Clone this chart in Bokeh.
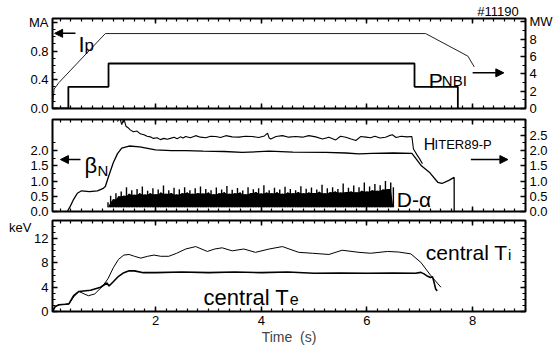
import numpy as np
from bokeh.plotting import figure
from bokeh.layouts import column
from bokeh.models import (Range1d, LinearAxis, FixedTicker, Label, Arrow,
                          NormalHead, PrintfTickFormatter)
from bokeh.embed import file_html
from bokeh.resources import INLINE

FONT = "Liberation Sans"

# ---------------- data (shot #11190) ----------------
shot_label = "#11190"

# plasma current, MA
ip_t = [0.05, 0.08, 0.17, 1.05, 7.11, 7.91, 8.03]
ip_ma = [0.04, 0.27, 0.36, 1.045, 1.045, 0.73, 0.58]

# neutral beam power, MW (step changes)
pnbi_t = [0.05, 0.35, 1.11, 6.90, 7.72]
pnbi_mw = [0.0, 2.5, 5.2, 2.5, 0.0]

# normalised beta
betan_t = [0.33, 0.38, 0.45, 0.52, 0.60, 0.75, 0.90, 1.00, 1.05, 1.12, 1.20, 1.28,
           1.36, 1.50, 1.70, 1.85, 2.00, 2.30, 2.57, 2.90, 3.30, 3.64, 4.15, 4.60,
           5.22, 5.60, 5.85, 6.10, 6.50, 6.85, 6.92, 7.03, 7.18, 7.34, 7.42, 7.55,
           7.65, 7.651]
betan = [0.0, 0.15, 0.40, 0.60, 0.68, 0.65, 0.68, 0.75, 0.82, 1.20, 1.60, 1.90,
         2.08, 2.15, 2.12, 2.07, 2.02, 2.00, 2.00, 1.98, 1.97, 1.94, 1.98, 1.95,
         1.94, 1.92, 1.89, 1.91, 1.92, 1.91, 1.75, 1.50, 1.29, 0.96, 0.92, 1.02,
         1.12, 0.0]

# confinement enhancement factor H_ITER89-P
h89_t = [1.28, 1.32, 1.36, 1.40, 1.44, 1.48, 1.52, 1.58, 1.65, 1.71, 1.78, 1.84,
         1.90, 1.96, 2.03, 2.09, 2.16, 2.22, 2.28, 2.35, 2.41, 2.47, 2.52, 2.57,
         2.66, 2.76, 2.85, 2.95, 3.04, 3.14, 3.23, 3.33, 3.45, 3.58, 3.70, 3.83,
         3.95, 4.06, 4.12, 4.15, 4.18, 4.28, 4.40, 4.52, 4.65, 4.78, 4.90, 5.03,
         5.16, 5.28, 5.41, 5.50, 5.60, 5.70, 5.79, 5.88, 5.98, 6.07, 6.15, 6.25,
         6.35, 6.42, 6.48, 6.55, 6.65, 6.75, 6.85, 6.88, 6.95, 7.00, 7.05]
h89 = [2.95, 3.10, 2.85, 3.05, 2.80, 2.75, 2.68, 2.62, 2.64, 2.55, 2.52, 2.47,
       2.45, 2.40, 2.42, 2.36, 2.40, 2.37, 2.40, 2.44, 2.39, 2.45, 2.41, 2.46,
       2.42, 2.49, 2.44, 2.42, 2.47, 2.46, 2.43, 2.49, 2.45, 2.44, 2.47, 2.46,
       2.43, 2.48, 2.57, 2.41, 2.38, 2.46, 2.49, 2.44, 2.46, 2.44, 2.49, 2.45,
       2.38, 2.44, 2.35, 2.47, 2.44, 2.38, 2.33, 2.46, 2.44, 2.42, 2.47, 2.41,
       2.44, 2.49, 2.52, 2.43, 2.47, 2.45, 2.46, 2.05, 1.85, 1.72, 1.57]

# D-alpha emission (arb.), spike heights sampled every 50 ms from 1.05 s
dalpha_t0, dalpha_dt = 1.05, 0.05
dalpha_hi = [0.05, 0.30, 0.52, 0.40, 0.60, 0.50, 0.66, 0.52, 0.80, 0.58,
             0.70, 0.55, 0.74, 0.60, 0.82, 0.56, 0.68, 0.60, 0.76, 0.57,
             0.72, 0.62, 0.85, 0.58, 0.70, 0.61, 0.78, 0.56, 0.73, 0.60,
             0.80, 0.62, 0.70, 0.58, 0.76, 0.61, 0.82, 0.59, 0.74, 0.62,
             0.70, 0.57, 0.79, 0.60, 0.72, 0.63, 0.84, 0.58, 0.71, 0.60,
             0.77, 0.62, 0.69, 0.57, 0.80, 0.61, 0.73, 0.64, 0.76, 0.59,
             0.86, 0.62, 0.70, 0.60, 0.78, 0.63, 0.72, 0.58, 0.81, 0.62,
             0.74, 0.60, 0.70, 0.64, 0.83, 0.60, 0.75, 0.62, 0.79, 0.61,
             0.72, 0.65, 0.88, 0.60, 0.76, 0.63, 0.80, 0.66, 0.74, 0.62,
             0.92, 0.64, 0.78, 0.66, 0.85, 0.63, 0.80, 0.68, 0.95, 0.66,
             0.82, 0.70, 0.90, 0.68, 0.86, 0.72, 1.00, 0.74, 0.95, 0.80]
dalpha_floor = 0.14

# central ion and electron temperatures, keV
ti_t = [0.05, 0.10, 0.17, 0.30, 0.36, 0.45, 0.55, 0.65, 0.73, 0.85, 1.00, 1.10,
        1.20, 1.30, 1.40, 1.50, 1.60, 1.72, 1.85, 1.97, 2.10, 2.25, 2.40, 2.57,
        2.76, 2.98, 3.12, 3.26, 3.45, 3.67, 3.89, 4.15, 4.40, 4.71, 4.97, 5.28,
        5.53, 5.85, 6.07, 6.39, 6.60, 6.83, 7.02, 7.21, 7.40]
ti = [0.0, 0.8, 1.1, 1.2, 1.25, 2.4, 3.3, 2.9, 2.6, 2.9, 4.2, 5.4,
      7.2, 8.6, 9.3, 9.4, 9.1, 8.8, 9.1, 9.3, 9.1, 9.1, 9.6, 10.3,
      10.7, 9.9, 10.3, 10.5, 10.0, 10.3, 9.75, 10.3, 10.7, 9.75, 9.6, 9.4,
      10.1, 9.75, 9.6, 9.9, 9.8, 9.5, 8.1, 5.9, 4.0]

te_t = [0.05, 0.10, 0.17, 0.30, 0.36, 0.45, 0.55, 0.77, 0.96, 1.08, 1.12, 1.20,
        1.30, 1.40, 1.50, 1.60, 1.77, 2.00, 2.50, 3.00, 3.50, 4.00, 4.50, 5.00,
        5.50, 6.00, 6.50, 6.92, 7.02, 7.08, 7.15, 7.20, 7.24, 7.27, 7.30, 7.33]
te = [0.0, 0.8, 1.1, 1.2, 1.25, 2.6, 3.3, 3.5, 4.0, 4.7, 4.2, 4.9,
      5.8, 6.4, 6.7, 6.7, 6.4, 6.4, 6.5, 6.4, 6.5, 6.4, 6.5, 6.3,
      6.35, 6.3, 6.35, 6.3, 6.45, 6.2, 5.8, 5.6, 5.75, 4.8, 3.7, 3.4]

# ---------------- axes definitions ----------------
time_range = (0.05, 9.0)
time_ticks = [2, 4, 6, 8]
time_minor = [round(0.2 * k, 1) for k in range(0, 46)]
shot_tick = 8.48

ma_range, ma_ticks = (0, 1.255), [0.0, 0.4, 0.8, 1.2]
ma_minor = [round(0.1 * k, 1) for k in range(0, 13)]
ma_names = {1.2: "MA"}
mw_range, mw_ticks = (0, 10.4), [0, 2, 4, 6, 8, 10]
mw_minor = list(range(0, 11))
mw_names = {10: "MW"}

beta_range, beta_ticks = (0, 3.02), [0.0, 0.5, 1.0, 1.5, 2.0]
beta_minor = [0.25 * k for k in range(0, 10)]
h_range, h_ticks = (0, 3.02), [0.0, 0.5, 1.0, 1.5, 2.0, 2.5]
h_minor = [0.25 * k for k in range(0, 12)]

kev_range, kev_ticks = (0, 15.0), [0, 4, 8, 12]
kev_minor = list(range(0, 16))
kev_unit_tick = 14


def make_panel(height, b_top, b_bottom, y_left, y_right):
    p = figure(width=555, height=height, output_backend="svg",
               toolbar_location=None, x_range=Range1d(*time_range),
               y_range=Range1d(*y_left), x_axis_location=None,
               y_axis_location=None, min_border_left=52, min_border_right=30,
               min_border_top=b_top, min_border_bottom=b_bottom)
    p.extra_y_ranges = {"right": Range1d(*y_right)}
    p.grid.visible = False
    p.outline_line_color = "black"
    p.outline_line_width = 2
    p.background_fill_color = "white"
    p.border_fill_color = "white"
    return p


def style_axis(ax, labels=True):
    ax.axis_line_color = None
    ax.major_tick_in, ax.major_tick_out = 5, 0
    ax.minor_tick_in, ax.minor_tick_out = 3, 0
    ax.major_tick_line_color = "black"
    ax.minor_tick_line_color = "black"
    ax.major_tick_line_width = 1.5
    ax.minor_tick_line_width = 1.2
    ax.major_label_text_font = FONT
    if labels:
        ax.major_label_text_color = "black"
        ax.major_label_text_font_size = "13px"
        ax.major_label_standoff = 4
    else:
        ax.major_label_text_color = None
        ax.major_label_text_font_size = "1px"
        ax.major_label_standoff = 0
    return ax


def name_axis(ticks, names, standoff, y_range_name=None):
    """An axis carrying only a text at a given position, without tick marks."""
    kw = {"y_range_name": y_range_name} if y_range_name else {}
    ax = LinearAxis(ticker=FixedTicker(ticks=ticks, minor_ticks=[]),
                    major_label_overrides=names, **kw)
    ax.axis_line_color = None
    ax.major_tick_line_color = None
    ax.minor_tick_line_color = None
    ax.major_tick_in = ax.major_tick_out = 0
    ax.major_label_text_font = FONT
    ax.major_label_text_font_size = "13px"
    ax.major_label_text_color = "black"
    ax.major_label_standoff = standoff
    return ax


def add_time_axes(p, bottom_labels=False):
    for place in ("above", "below"):
        show = bottom_labels and place == "below"
        ax = LinearAxis(ticker=FixedTicker(ticks=time_ticks, minor_ticks=time_minor))
        style_axis(ax, show)
        if show:
            ax.axis_label = "Time\u00a0 (s)"
            ax.axis_label_text_font = FONT
            ax.axis_label_text_font_size = "14px"
            ax.axis_label_text_font_style = "normal"
            ax.axis_label_standoff = 1
        p.add_layout(ax, place)


def add_y_axes(p, lticks, lminor, lfmt, rticks, rminor, rfmt,
               right_labels=True, lnames=None, rnames=None):
    la = LinearAxis(ticker=FixedTicker(ticks=lticks, minor_ticks=lminor),
                    formatter=PrintfTickFormatter(format=lfmt),
                    major_label_overrides=lnames or {})
    p.add_layout(style_axis(la), "left")
    ra = LinearAxis(y_range_name="right",
                    ticker=FixedTicker(ticks=rticks, minor_ticks=rminor),
                    formatter=PrintfTickFormatter(format=rfmt),
                    major_label_overrides=rnames or {})
    p.add_layout(style_axis(ra, right_labels), "right")


def text(p, x, y, s, size, align="left"):
    p.add_layout(Label(x=x, y=y, text=s, text_font=FONT, text_font_size=size,
                       text_color="black", text_align=align,
                       text_baseline="alphabetic"))


def arrow(p, x0, x1, y):
    p.add_layout(Arrow(x_start=x0, y_start=y, x_end=x1, y_end=y,
                       line_color="black", line_width=1.5,
                       end=NormalHead(size=8, fill_color="black",
                                      line_color="black")))


# ---------------- panel 1: Ip and P_NBI ----------------
p1 = make_panel(115, 17, 7, ma_range, mw_range)
add_time_axes(p1)
p1.add_layout(name_axis([shot_tick], {shot_tick: shot_label}, 0), "above")
add_y_axes(p1, ma_ticks, ma_minor, "%.1f", mw_ticks, mw_minor, "%d",
           lnames=ma_names, rnames=mw_names)
p1.line(ip_t, ip_ma, line_color="#222222", line_width=1)
p1.step(pnbi_t, pnbi_mw, mode="after", y_range_name="right",
        line_color="black", line_width=1.8)
arrow(p1, 0.485, 0.09, 1.048)
text(p1, 0.54, 0.897, "I", "22px")
text(p1, 0.655, 0.885, "p", "17px")
text(p1, 7.17, 0.386, "P", "21px")
text(p1, 7.417, 0.386, "NBI", "15px")
arrow(p1, 8.0, 8.59, 0.497)

# ---------------- panel 2: beta_N, H factor, D-alpha ----------------
p2 = make_panel(104, 4, 8, beta_range, h_range)
add_time_axes(p2)
add_y_axes(p2, beta_ticks, beta_minor, "%.1f", h_ticks, h_minor, "%.1f")

da_t = np.round(dalpha_t0 + dalpha_dt * np.arange(len(dalpha_hi)), 3)
da_hi = np.array(dalpha_hi)
da_body = np.minimum(np.minimum(da_hi, np.roll(da_hi, 1)), np.roll(da_hi, -1))
da_base = np.minimum(dalpha_floor, da_hi)
p2.varea(x=da_t, y1=da_base, y2=np.maximum(da_body, da_base), fill_color="black")
p2.segment(x0=da_t, y0=da_base, x1=da_t, y1=da_hi, line_color="black",
           line_width=1.4)
p2.line(betan_t, betan, line_color="black", line_width=1.3)
p2.line(h89_t, h89, y_range_name="right", line_color="black", line_width=1.1)

arrow(p2, 0.58, 0.20, 1.705)
text(p2, 0.655, 1.508, "\u03b2", "22px")
text(p2, 0.90, 1.344, "N", "15px")
text(p2, 7.076, 2.197, "H", "16px")
text(p2, 7.28, 2.197, "ITER89-P", "13px")
arrow(p2, 7.966, 8.667, 1.705)
text(p2, 6.564, 0.393, "D-\u03b1", "21px")

# ---------------- panel 3: central Ti and Te ----------------
p3 = make_panel(134, 1, 42, kev_range, kev_range)
add_time_axes(p3, bottom_labels=True)
add_y_axes(p3, kev_ticks, kev_minor, "%d", kev_ticks, kev_minor, "%d",
           right_labels=False)
p3.add_layout(name_axis([kev_unit_tick], {kev_unit_tick: "keV"}, 0), "left")
p3.line(ti_t, ti, line_color="black", line_width=1.0)
p3.line(te_t, te, line_color="black", line_width=1.6)
text(p3, 7.114, 9.70, "central T", "21px")
text(p3, 8.667, 9.375, "i", "15px")
text(p3, 2.909, 2.30, "central T", "22px")
text(p3, 4.538, 2.14, "e", "16px")

layout = column(p1, p2, p3, spacing=0)
open("out.html", "w").write(file_html(layout, INLINE))
